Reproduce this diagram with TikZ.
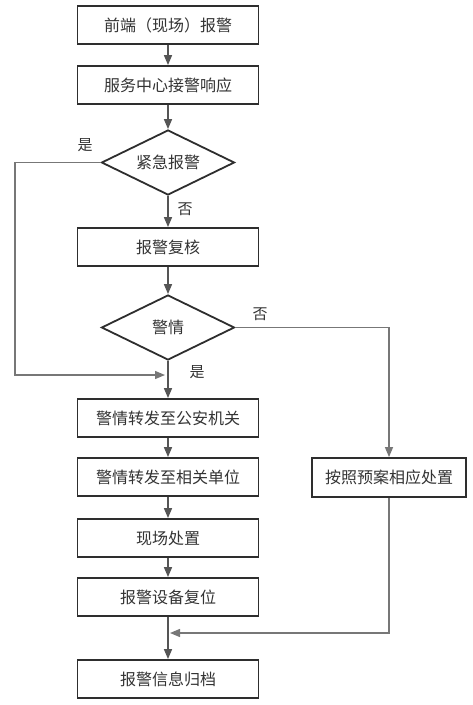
\documentclass[tikz,border=0pt]{standalone}
\usepackage{fontspec}
\newfontfamily\cjk{Noto Sans CJK SC}
\usepackage{xcolor}
\usepackage{tikz}
\usetikzlibrary{shapes.geometric, arrows.meta}

\definecolor{boxline}{HTML}{2E2E2E}
\definecolor{flowline}{HTML}{555555}
\definecolor{sideline}{HTML}{777777}

\begin{document}
\begin{tikzpicture}[
    x=1pt, y=-1pt,
    >={Triangle[length=10pt, width=8pt]},
    flow_arrow/.style={draw=flowline, line width=1.6pt, ->},
    side_arrow/.style={draw=sideline, line width=1.3pt, ->},
    % process boxes
    proc_box/.style={rectangle, draw=boxline, line width=1.8pt, fill=white, minimum width=181pt, minimum height=38pt, inner sep=0pt, align=center, text=black!80, font=\cjk\fontsize{16}{19}\selectfont},
    % decisions
    dec_node/.style={diamond, aspect=2, draw=boxline, line width=1.8pt, fill=white, minimum width=133pt, minimum height=65pt, inner sep=0pt, align=center, text=black!80, font=\cjk\fontsize{16}{19}\selectfont},
    yn_label/.style={text=black!80, inner sep=1pt, font=\cjk\fontsize{15}{17}\selectfont}
]
    \useasboundingbox (0,0) rectangle (473,705);

    % =========================================================================
    % MAIN COLUMN
    % =========================================================================
    \node [proc_box] (alarm) at (168, 25) {前端（现场）报警};
    \node [proc_box] (center) at (168, 85) {服务中心接警响应};
    \node [dec_node] (urgent) at (168, 162.5) {紧急报警};
    \node [proc_box] (review) at (168, 247) {报警复核};
    \node [dec_node] (police) at (168, 327.5) {警情};
    \node [proc_box] (fwdpol) at (168, 418) {警情转发至公安机关};
    \node [proc_box] (fwdunit) at (168, 477) {警情转发至相关单位};
    \node [proc_box] (onsite) at (168, 538) {现场处置};
    \node [proc_box] (reset) at (168, 597) {报警设备复位};
    \node [proc_box] (archive) at (168, 679) {报警信息归档};

    % =========================================================================
    % SIDE BRANCH
    % =========================================================================
    \node [proc_box, minimum width=154pt, minimum height=39pt] (plan) at (389, 477.5) {按照预案相应处置};

    \coordinate (join_yes) at (165, 375);
    \coordinate (join_end) at (170, 633);

    \draw [flow_arrow] (alarm) -- (center);
    \draw [flow_arrow] (center) -- (urgent);
    \draw [flow_arrow] (urgent) -- (review);
    \draw [flow_arrow] (review) -- (police);
    \draw [flow_arrow] (police) -- (fwdpol);
    \draw [flow_arrow] (fwdpol) -- (fwdunit);
    \draw [flow_arrow] (fwdunit) -- (onsite);
    \draw [flow_arrow] (onsite) -- (reset);
    \draw [flow_arrow] (reset) -- (archive);

    \draw [side_arrow] (urgent.west) -- (15, 162.5) |- (join_yes);
    \draw [side_arrow] (police.east) -| (plan.north);
    \draw [side_arrow] (plan.south) |- (join_end);

    \node [yn_label] (yes1) at (85, 145) {是};
    \node [yn_label] (no1) at (185, 209) {否};
    \node [yn_label] (no2) at (260, 314) {否};
    \node [yn_label] (yes2) at (197, 372) {是};
\end{tikzpicture}
\end{document}
